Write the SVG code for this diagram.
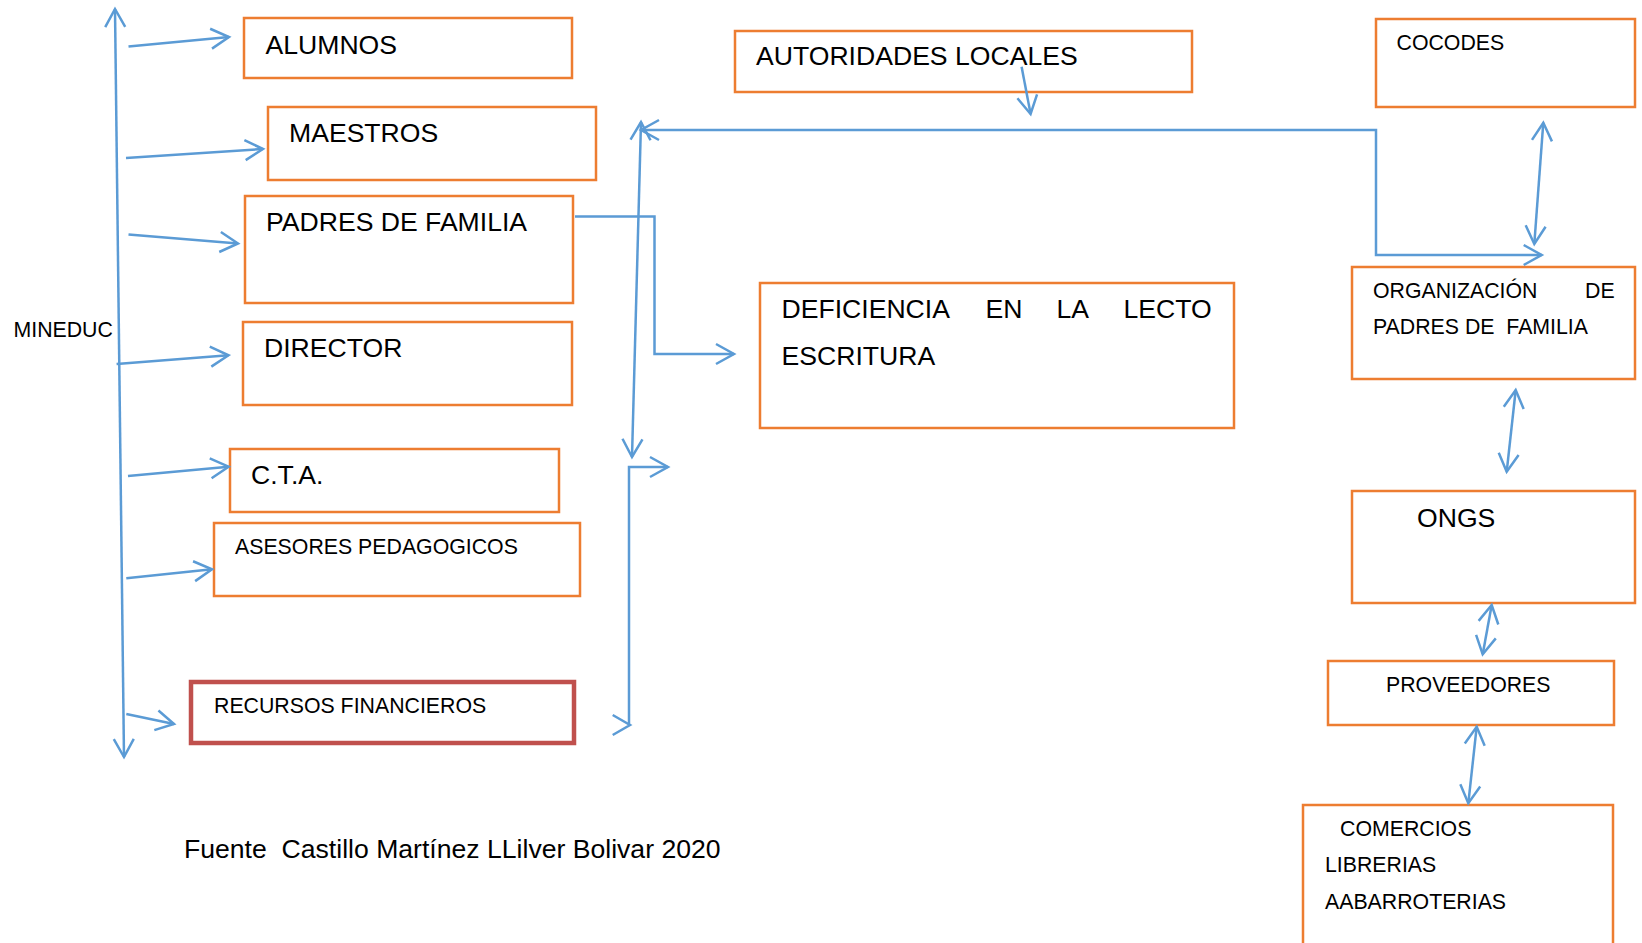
<svg xmlns="http://www.w3.org/2000/svg" width="1642" height="943" viewBox="0 0 1642 943">
<style>
.box{fill:#fff;stroke:#ED7D31;stroke-width:2.5}
.red{fill:#fff;stroke:#C0504D;stroke-width:4.5}
.big{font-family:"Liberation Sans",Arial,sans-serif;font-size:26.6px;fill:#000}
.sm{font-family:"Liberation Sans",Arial,sans-serif;font-size:21.3px;fill:#000}
.c{fill:none;stroke:#5B9BD5;stroke-width:2.5}
.s{marker-end:url(#ah)}
.d{marker-start:url(#ah);marker-end:url(#ah)}
</style>
<defs>
<marker id="ah" viewBox="0 0 20 22" refX="19" refY="11" markerWidth="20" markerHeight="22" markerUnits="userSpaceOnUse" orient="auto-start-reverse" overflow="visible">
<path d="M1,1 L19,11 L1,21" fill="none" stroke="#5B9BD5" stroke-width="2.5"/>
</marker>
</defs>
<rect width="1642" height="943" fill="#fff"/>
<text class="sm" x="13.5" y="337">MINEDUC</text>
<g id="alumnos"><rect class="box" x="244" y="18" width="328" height="60"/><text class="big" x="265.5" y="54">ALUMNOS</text></g>
<g id="maestros"><rect class="box" x="268" y="107" width="328" height="73"/><text class="big" x="289" y="142">MAESTROS</text></g>
<g id="padres"><rect class="box" x="245" y="196" width="328" height="107"/><text class="big" x="266" y="231">PADRES DE FAMILIA</text></g>
<g id="director"><rect class="box" x="243" y="322" width="329" height="83"/><text class="big" x="264" y="357">DIRECTOR</text></g>
<g id="cta"><rect class="box" x="230" y="449" width="329" height="63"/><text class="big" x="251" y="484">C.T.A.</text></g>
<g id="asesores"><rect class="box" x="214" y="523" width="366" height="73"/><text class="sm" x="235" y="554">ASESORES PEDAGOGICOS</text></g>
<g id="recursos"><rect class="red" x="191" y="682" width="383" height="61"/><text class="sm" x="214" y="713">RECURSOS FINANCIEROS</text></g>
<g id="autoridades"><rect class="box" x="735" y="31" width="457" height="61"/><text class="big" x="756" y="65">AUTORIDADES LOCALES</text></g>
<g id="deficiencia"><rect class="box" x="760" y="283" width="474" height="145"/>
<text class="big" y="318"><tspan x="781.5">DEFICIENCIA</tspan><tspan x="985.5">EN</tspan><tspan x="1056.5">LA</tspan><tspan x="1123.5">LECTO</tspan></text>
<text class="big" x="781.5" y="365">ESCRITURA</text></g>
<g id="cocodes"><rect class="box" x="1376" y="19" width="259" height="88"/><text class="sm" x="1396.5" y="50">COCODES</text></g>
<g id="organizacion"><rect class="box" x="1352" y="267" width="283" height="112"/>
<text class="sm" y="297.5"><tspan x="1373">ORGANIZACIÓN</tspan><tspan x="1585">DE</tspan></text>
<text class="sm" x="1373" y="334" xml:space="preserve">PADRES DE  FAMILIA</text></g>
<g id="ongs"><rect class="box" x="1352" y="491" width="283" height="112"/><text class="big" x="1417" y="527">ONGS</text></g>
<g id="proveedores"><rect class="box" x="1328" y="661" width="286" height="64"/><text class="sm" x="1386" y="692">PROVEEDORES</text></g>
<g id="comercios"><rect class="box" x="1303" y="805" width="310" height="160"/>
<text class="sm" x="1340" y="836">COMERCIOS</text>
<text class="sm" x="1325" y="872">LIBRERIAS</text>
<text class="sm" x="1325" y="909">AABARROTERIAS</text></g>
<text class="big" x="184" y="858" xml:space="preserve">Fuente  Castillo Martínez LLilver Bolivar 2020</text>
<g id="connectors">
<line class="c d" x1="115" y1="9" x2="124" y2="757"/>
<line class="c s" x1="128.5" y1="46.5" x2="229" y2="37"/>
<line class="c s" x1="126" y1="158" x2="263" y2="149"/>
<line class="c s" x1="128.5" y1="234.5" x2="238" y2="243.5"/>
<line class="c s" x1="116.6" y1="364" x2="228.5" y2="355.3"/>
<line class="c s" x1="128" y1="476" x2="228.6" y2="466.7"/>
<line class="c s" x1="126.3" y1="578.3" x2="212" y2="569.3"/>
<line class="c s" x1="126.3" y1="714" x2="174" y2="724"/>
<polyline class="c s" points="575,216.5 654.5,216.5 654.5,354 734,354"/>
<polyline class="c d" points="1541.7,255 1376,255 1376,130 641,130"/>
<line class="c d" x1="641" y1="122" x2="632" y2="457"/>
<polyline class="c" style="marker-start:url(#ah)" points="668,467 629,467 629,725"/>
<path class="c" d="M612.7,715 L630,725 L612.7,735"/>
<line class="c s" x1="1021.6" y1="66.7" x2="1030.6" y2="114"/>
<line class="c d" x1="1543.3" y1="122.7" x2="1534.3" y2="244"/>
<line class="c d" x1="1515.7" y1="390" x2="1506.7" y2="471.7"/>
<line class="c d" x1="1491.7" y1="605" x2="1482.7" y2="654.3"/>
<line class="c d" x1="1476.7" y1="726.7" x2="1468.3" y2="803.3"/>
</g>
</svg>
